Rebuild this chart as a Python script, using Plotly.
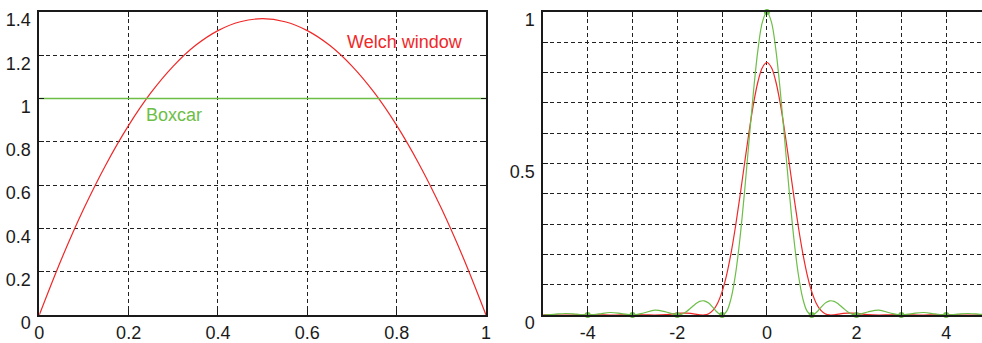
import plotly.graph_objects as go

# ---- left panel: window shapes on [0, 1] ----
t = [0.0, 0.05, 0.1, 0.15, 0.2, 0.25, 0.3, 0.35, 0.4, 0.45, 0.5,
     0.55, 0.6, 0.65, 0.7, 0.75, 0.8, 0.85, 0.9, 0.95, 1.0]
welch = [0.0, 0.260, 0.493, 0.698, 0.876, 1.027, 1.150, 1.246, 1.314, 1.355, 1.369,
         1.355, 1.314, 1.246, 1.150, 1.027, 0.876, 0.698, 0.493, 0.260, 0.0]
boxcar_t = [0.0, 1.0]
boxcar = [1.0, 1.0]
left_xticks = [0, 0.2, 0.4, 0.6, 0.8, 1]
left_xlabels = ["0", "0.2", "0.4", "0.6", "0.8", "1"]
left_yticks = [0, 0.2, 0.4, 0.6, 0.8, 1, 1.2, 1.4]
left_ylabels = ["0", "0.2", "0.4", "0.6", "0.8", "1", "1.2", "1.4"]

# ---- right panel: power spectra vs frequency ----
f = [-5.0, -4.75, -4.5, -4.25, -4.0, -3.75, -3.5, -3.25, -3.0, -2.75, -2.5, -2.25,
     -2.0, -1.9, -1.8, -1.7, -1.6, -1.5, -1.4, -1.3, -1.2, -1.1,
     -1.0, -0.9, -0.8, -0.7, -0.6, -0.5, -0.4, -0.3, -0.2, -0.1,
     0.0, 0.1, 0.2, 0.3, 0.4, 0.5, 0.6, 0.7, 0.8, 0.9, 1.0,
     1.1, 1.2, 1.3, 1.4, 1.5, 1.6, 1.7, 1.8, 1.9, 2.0,
     2.25, 2.5, 2.75, 3.0, 3.25, 3.5, 3.75, 4.0, 4.25, 4.5, 4.75, 5.0]
spec_boxcar = [0.0, 0.00225, 0.00500, 0.00280, 0.0, 0.00360, 0.00827, 0.00480, 0.0, 0.00670, 0.01621, 0.01001,
               0.0, 0.00268, 0.01080, 0.02295, 0.03580, 0.04503, 0.04676, 0.03924, 0.02431, 0.00800,
               0.0, 0.01194, 0.05470, 0.13534, 0.25457, 0.40528, 0.57279, 0.73684, 0.87514, 0.96753,
               1.0, 0.96753, 0.87514, 0.73684, 0.57279, 0.40528, 0.25457, 0.13534, 0.05470, 0.01194, 0.0,
               0.00800, 0.02431, 0.03924, 0.04676, 0.04503, 0.03580, 0.02295, 0.01080, 0.00268, 0.0,
               0.01001, 0.01621, 0.00670, 0.0, 0.00480, 0.00827, 0.00360, 0.0, 0.00280, 0.00500, 0.00225, 0.0]
spec_welch = [0.00012, 0.00009, 0.0, 0.00010, 0.00030, 0.00023, 0.0, 0.00028, 0.00095, 0.00084, 0.00003, 0.00111,
              0.00481, 0.00594, 0.00611, 0.00504, 0.00292, 0.00068, 0.00017, 0.00409, 0.01584, 0.03904,
              0.07700, 0.13194, 0.20445, 0.29287, 0.39322, 0.49928, 0.60313, 0.69608, 0.76972, 0.81702,
              0.83333, 0.81702, 0.76972, 0.69608, 0.60313, 0.49928, 0.39322, 0.29287, 0.20445, 0.13194, 0.07700,
              0.03904, 0.01584, 0.00409, 0.00017, 0.00068, 0.00292, 0.00504, 0.00611, 0.00594, 0.00481,
              0.00111, 0.00003, 0.00084, 0.00095, 0.00028, 0.0, 0.00023, 0.00030, 0.00010, 0.0, 0.00009, 0.00012]
right_xticks = [-4, -2, 0, 2, 4]
right_xlabels = ["-4", "-2", "0", "2", "4"]
right_yticks = [0, 0.5, 1]
right_ylabels = ["0", "0.5", "1"]

# boxcar spectrum samples at integer frequencies
dot_f = [-4, -3, -2, -1, 0, 1, 2, 3, 4]
dot_val = [0.0, 0.0, 0.0, 0.0, 1.0, 0.0, 0.0, 0.0, 0.0]

RED = "rgb(240,40,40)"
GREEN = "rgb(108,190,70)"
FONT = "Liberation Sans, Arial, Helvetica, sans-serif"
INK = "#1a1a1a"
DASH = "4px,3px"

fig = go.Figure()
fig.add_trace(go.Scatter(x=t, y=welch, mode="lines", line=dict(color=RED, width=1.2, shape="spline"),
                         xaxis="x", yaxis="y"))
fig.add_trace(go.Scatter(x=boxcar_t, y=boxcar, mode="lines", line=dict(color=GREEN, width=1.5),
                         xaxis="x", yaxis="y"))
fig.add_trace(go.Scatter(x=f, y=spec_welch, mode="lines", line=dict(color=RED, width=1.2, shape="spline"),
                         xaxis="x2", yaxis="y2"))
fig.add_trace(go.Scatter(x=f, y=spec_boxcar, mode="lines", line=dict(color=GREEN, width=1.2, shape="spline"),
                         xaxis="x2", yaxis="y2"))
fig.add_trace(go.Scatter(x=dot_f, y=dot_val, mode="markers", marker=dict(color=GREEN, size=6),
                         xaxis="x2", yaxis="y2", cliponaxis=False))

W, H = 982, 343
axis_common = dict(showline=True, linecolor=INK, linewidth=2, ticks="inside", ticklen=5,
                   tickwidth=1, tickcolor=INK, zeroline=False, ticklabeloverflow="allow",
                   automargin=False,
                   showgrid=True, gridcolor="#222", gridwidth=1, griddash=DASH,
                   tickfont=dict(family=FONT, size=18, color=INK))
minor_common = dict(showgrid=True, gridcolor="#222", gridwidth=1, griddash=DASH,
                    ticks="inside", ticklen=5, tickcolor=INK)
y_dom = [(H - 315) / H, (H - 12) / H]

fig.update_layout(
    width=W, height=H, margin=dict(l=0, r=0, t=0, b=0, pad=0, autoexpand=False),
    paper_bgcolor="white", plot_bgcolor="white", showlegend=False,
    xaxis=dict(domain=[39.3 / W, 486 / W], range=[0, 1.0000001],
               tickmode="array", tickvals=left_xticks, ticktext=left_xlabels,
               mirror="ticks", anchor="y", ticklabelstandoff=0, **axis_common),
    yaxis=dict(domain=y_dom, range=[0, 1.4000001],
               tickmode="array", tickvals=left_yticks, ticktext=left_ylabels,
               mirror="ticks", anchor="x", ticklabelshift=8, ticklabelstandoff=3, **axis_common),
    xaxis2=dict(domain=[543.3 / W, 1.0], range=[-4.99, 4.80],
                tickmode="array", tickvals=right_xticks, ticktext=right_xlabels,
                mirror="ticks", anchor="y2", ticklabelstandoff=0,
                minor=dict(tickmode="linear", dtick=1, tick0=0, **minor_common),
                **axis_common),
    yaxis2=dict(domain=y_dom, range=[0, 1.0000001],
                tickmode="array", tickvals=right_yticks, ticktext=right_ylabels,
                mirror=False, anchor="x2", ticklabelshift=8, ticklabelstandoff=3,
                minor=dict(tickmode="linear", dtick=0.1, tick0=0, **minor_common),
                **axis_common),
    annotations=[
        dict(x=0.8187, y=1.261, xref="x", yref="y", text="Welch window", showarrow=False,
             font=dict(family=FONT, size=18, color=RED)),
        dict(x=0.3015, y=0.924, xref="x", yref="y", text="Boxcar", showarrow=False,
             font=dict(family=FONT, size=18, color=GREEN)),
    ],
)

fig.write_html("out.html")
